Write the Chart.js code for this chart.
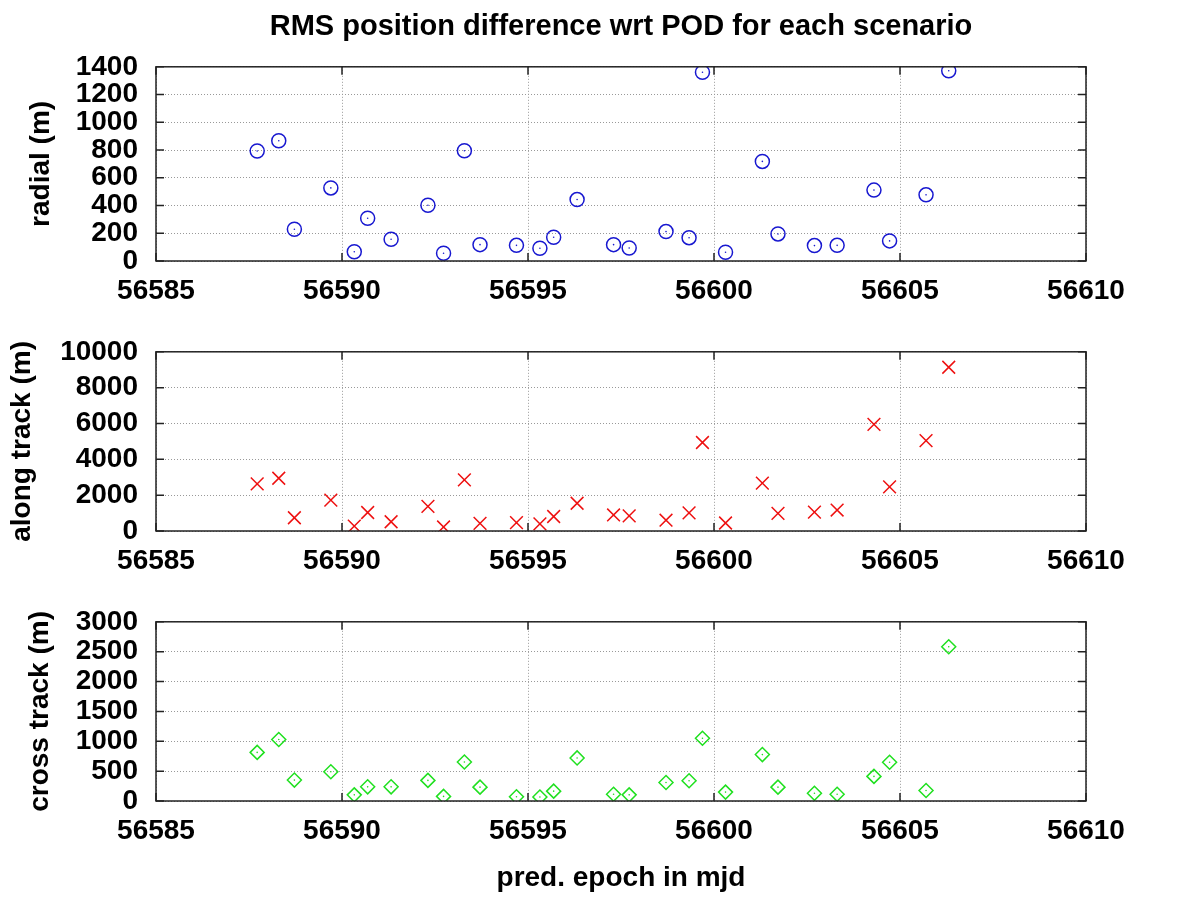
<!DOCTYPE html>
<html>
<head>
<meta charset="utf-8">
<script src="https://cdn.jsdelivr.net/npm/chart.js@4"></script>
<style>
  body { margin: 0; background: #fff; width: 1200px; height: 900px; position: relative; overflow: hidden; }
  canvas { position: absolute; left: 0; }
</style>
</head>
<body>
<canvas id="radialChart" style="top:0px"></canvas>
<canvas id="alongChart" style="top:317px"></canvas>
<canvas id="crossChart" style="top:587px"></canvas>
<script>
// prediction epochs (mjd) of each scenario
const epochs = [56587.72, 56588.30, 56588.72, 56589.70, 56590.33, 56590.69, 56591.32, 56592.31, 56592.73,
  56593.29, 56593.71, 56594.69, 56595.32, 56595.69, 56596.32, 56597.30, 56597.72, 56598.71, 56599.33,
  56599.69, 56600.31, 56601.30, 56601.72, 56602.70, 56603.31, 56604.30, 56604.72, 56605.70, 56606.31];

// RMS position difference wrt POD (m)
const radial = [793, 867, 229, 527, 67, 308, 157, 402, 56, 795, 118, 113, 92, 171, 443, 118, 94,
  212, 168, 1361, 63, 718, 195, 111, 113, 511, 145, 477, 1371];
const alongTrack = [2633, 2943, 740, 1720, 275, 1032, 516, 1377, 224, 2857, 430, 465, 396, 809, 1549, 895, 843,
  602, 1015, 4939, 447, 2667, 981, 1050, 1170, 5953, 2461, 5042, 9138];
const crossTrack = [814, 1030, 350, 489, 103, 237, 237, 345, 77, 653, 232, 72, 67, 165, 721, 113, 103,
  309, 340, 1050, 149, 777, 232, 129, 113, 412, 648, 175, 2583];

const xMin = 56585, xMax = 56610, xStep = 5;

const FONT = 'Liberation Sans, Arial, Helvetica, sans-serif';

// gnuplot-like frame with inward ticks on all four sides
const framePlugin = {
  id: 'frame',
  afterDraw(chart) {
    const { ctx, chartArea: a, scales } = chart;
    ctx.save();
    ctx.strokeStyle = '#222';
    ctx.lineWidth = 1.5;
    ctx.setLineDash([]);
    ctx.strokeRect(a.left, a.top, a.right - a.left, a.bottom - a.top);
    const len = 8;
    ctx.beginPath();
    scales.y.ticks.forEach(t => {
      const py = scales.y.getPixelForValue(t.value);
      ctx.moveTo(a.left, py); ctx.lineTo(a.left + len, py);
      ctx.moveTo(a.right, py); ctx.lineTo(a.right - len, py);
    });
    scales.x.ticks.forEach(t => {
      const px = scales.x.getPixelForValue(t.value);
      ctx.moveTo(px, a.bottom); ctx.lineTo(px, a.bottom - len);
      ctx.moveTo(px, a.top); ctx.lineTo(px, a.top + len);
    });
    ctx.stroke();
    ctx.restore();
  }
};

function makePanel(id, height, values, yLabel, yMax, yStep, style, opts) {
  const canvas = document.getElementById(id);
  canvas.width = 1200;
  canvas.height = height;
  canvas.style.width = '1200px';
  canvas.style.height = height + 'px';
  const points = epochs.map((x, i) => ({ x: x, y: values[i] }));
  return new Chart(canvas.getContext('2d'), {
    type: 'scatter',
    data: {
      datasets: [{
        data: points,
        pointStyle: style.shape,
        pointRadius: style.radius,
        pointHoverRadius: style.radius,
        borderColor: style.color,
        backgroundColor: 'rgba(0,0,0,0)',
        pointBorderWidth: 1.5
      }, {
        // small centre dot that gnuplot puts in each point
        data: points,
        pointStyle: 'circle',
        pointRadius: 0.8,
        pointHoverRadius: 0.8,
        borderWidth: 0,
        backgroundColor: style.color
      }]
    },
    options: {
      responsive: false,
      animation: false,
      devicePixelRatio: 1,
      layout: { padding: { top: opts.padTop, right: 114, bottom: 0, left: 0 } },
      plugins: {
        legend: { display: false },
        tooltip: { enabled: false },
        title: opts.title ? {
          display: true,
          text: opts.title,
          fullSize: false,
          color: '#000',
          font: { family: FONT, size: 29, weight: 'bold' },
          padding: { top: 10, bottom: 22 }
        } : { display: false }
      },
      scales: {
        x: {
          type: 'linear',
          min: xMin,
          max: xMax,
          ticks: {
            stepSize: xStep,
            autoSkip: false,
            color: '#000',
            padding: 13,
            maxRotation: 0,
            font: { family: FONT, size: 28, weight: 'bold' },
            callback: v => String(v)
          },
          grid: { color: '#999', lineWidth: 1, drawTicks: false },
          border: { display: false, dash: [1, 2] },
          title: opts.xTitle ? {
            display: true,
            text: opts.xTitle,
            color: '#000',
            font: { family: FONT, size: 28, weight: 'bold' },
            padding: { top: 0, bottom: 5 }
          } : { display: false },
          afterFit: s => { s.height = opts.xHeight; }
        },
        y: {
          min: 0,
          max: yMax,
          ticks: {
            stepSize: yStep,
            autoSkip: false,
            color: '#000',
            padding: 18,
            font: { family: FONT, size: 28, weight: 'bold' },
            callback: v => String(v)
          },
          grid: { color: '#999', lineWidth: 1, drawTicks: false },
          border: { display: false, dash: [1, 2] },
          title: {
            display: true,
            text: yLabel,
            color: '#000',
            font: { family: FONT, size: 28, weight: 'bold' },
            padding: { top: opts.yTitlePad, bottom: 0 }
          },
          afterFit: s => { s.width = 156; }
        }
      }
    },
    plugins: [framePlugin]
  });
}

makePanel('radialChart', 306, radial, 'radial (m)', 1400, 200,
  { shape: 'circle', radius: 7, color: '#1818d0' },
  { padTop: 0, title: 'RMS position difference wrt POD for each scenario', xHeight: 45, yTitlePad: 24 });

makePanel('alongChart', 259, alongTrack, 'along track (m)', 10000, 2000,
  { shape: 'crossRot', radius: 9, color: '#ee1010' },
  { padTop: 20, xHeight: 45, yTitlePad: 5 });

makePanel('crossChart', 313, crossTrack, 'cross track (m)', 3000, 500,
  { shape: 'rectRot', radius: 7, color: '#20e020' },
  { padTop: 20, xHeight: 99, xTitle: 'pred. epoch in mjd', yTitlePad: 23 });
</script>
</body>
</html>
